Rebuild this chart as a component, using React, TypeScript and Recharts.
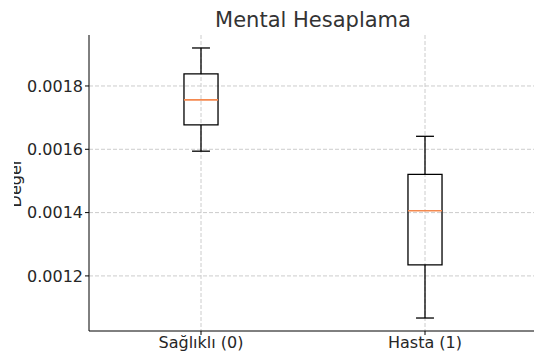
import { ComposedChart, Scatter, XAxis, YAxis, CartesianGrid, ReferenceArea, ReferenceLine } from 'recharts';

// box plot stats
const categories = ['Sağlıklı (0)', 'Hasta (1)'];
const whiskerLow = [0.001594, 0.001067];
const q1 = [0.001677, 0.001235];
const median = [0.001756, 0.001406];
const q3 = [0.001838, 0.001521];
const whiskerHigh = [0.00192, 0.001641];
const yTicks = [0.0012, 0.0014, 0.0016, 0.0018];
const xTicks = [1, 2];

const BOX_HALF = 0.076;
const CAP_HALF = 0.04;
const FONT = 'DejaVu Sans, sans-serif';
const TICK_FONT = 16;

const data = categories.map((name, i) => ({ x: i + 1, name, median: median[i] }));

export default function App() {
  return (
    <div
      style={{
        position: 'relative',
        width: 528,
        height: 358,
        margin: '-8px 0 0 6px',
        overflow: 'hidden',
        fontFamily: FONT,
      }}
    >
      <div
        style={{
          position: 'absolute',
          left: 75,
          width: 448,
          top: 10,
          textAlign: 'center',
          fontSize: 21,
          lineHeight: '21px',
          color: '#333',
        }}
      >
        Mental Hesaplama
      </div>
      <ComposedChart width={528} height={358} data={data} margin={{ top: 35, right: 5, bottom: 0, left: 0 }}>
        <CartesianGrid stroke="#cccccc" strokeDasharray="4 2" syncWithTicks />
        <XAxis
          dataKey="x"
          type="number"
          domain={[0.5, 2.5]}
          ticks={xTicks}
          tickFormatter={(v: number) => categories[v - 1] ?? ''}
          height={27}
          tickSize={4}
          stroke="#000"
          tick={{ fill: '#262626', fontSize: TICK_FONT, fontFamily: FONT }}
        />
        <YAxis
          type="number"
          domain={[0.001026, 0.001961]}
          ticks={yTicks}
          tickFormatter={(v: number) => v.toFixed(4)}
          width={75}
          tickSize={4}
          stroke="#000"
          tick={{ fill: '#262626', fontSize: TICK_FONT, fontFamily: FONT }}
          label={{
            value: 'Değer',
            angle: -90,
            position: 'insideLeft',
            offset: 1,
            style: { textAnchor: 'middle', fill: '#262626', fontSize: TICK_FONT, fontFamily: FONT },
          }}
        />
        {categories.map((_, i) => (
          <ReferenceLine
            key={`wl${i}`}
            segment={[{ x: i + 1, y: whiskerLow[i] }, { x: i + 1, y: q1[i] }]}
            stroke="#000"
            strokeWidth={1.3}
          />
        ))}
        {categories.map((_, i) => (
          <ReferenceLine
            key={`wh${i}`}
            segment={[{ x: i + 1, y: q3[i] }, { x: i + 1, y: whiskerHigh[i] }]}
            stroke="#000"
            strokeWidth={1.3}
          />
        ))}
        {categories.map((_, i) => (
          <ReferenceLine
            key={`cl${i}`}
            segment={[{ x: i + 1 - CAP_HALF, y: whiskerLow[i] }, { x: i + 1 + CAP_HALF, y: whiskerLow[i] }]}
            stroke="#000"
            strokeWidth={1.3}
          />
        ))}
        {categories.map((_, i) => (
          <ReferenceLine
            key={`ch${i}`}
            segment={[{ x: i + 1 - CAP_HALF, y: whiskerHigh[i] }, { x: i + 1 + CAP_HALF, y: whiskerHigh[i] }]}
            stroke="#000"
            strokeWidth={1.3}
          />
        ))}
        {categories.map((_, i) => (
          <ReferenceArea
            key={`box${i}`}
            x1={i + 1 - BOX_HALF}
            x2={i + 1 + BOX_HALF}
            y1={q1[i]}
            y2={q3[i]}
            fill="none"
            stroke="#000"
            strokeWidth={1.3}
            strokeOpacity={1}
          />
        ))}
        {categories.map((_, i) => (
          <ReferenceLine
            key={`md${i}`}
            segment={[{ x: i + 1 - BOX_HALF, y: median[i] }, { x: i + 1 + BOX_HALF, y: median[i] }]}
            stroke="#f4894f"
            strokeWidth={1.6}
          />
        ))}
        <Scatter dataKey="median" shape={() => <g />} isAnimationActive={false} legendType="none" />
      </ComposedChart>
    </div>
  );
}
